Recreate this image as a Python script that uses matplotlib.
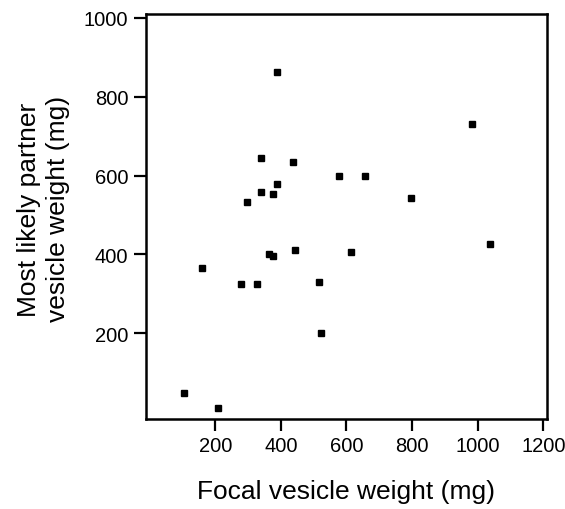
import matplotlib.pyplot as plt

plt.rcParams['font.family'] = ['Liberation Sans', 'DejaVu Sans']

# focal vesicle weight vs. weight of the most likely partner (mg)
focal = [389, 341, 438, 577, 656, 796, 389, 341, 376, 298, 365, 377,
         443, 614, 159, 280, 328, 516, 522, 984, 1038, 105, 207]
partner = [862, 644, 634, 599, 599, 543, 578, 558, 553, 533, 401, 396,
           412, 406, 366, 325, 325, 330, 199, 731, 426, 47, 11]

x_ticks = [200, 400, 600, 800, 1000, 1200]
y_ticks = [200, 400, 600, 800, 1000]

fig = plt.figure(figsize=(5.65, 5.10), dpi=100)
ax = fig.add_axes([0.2584, 0.1765, 0.7097, 0.7941])

ax.plot(focal, partner, 's', color='black', markersize=5, linestyle='none')

ax.set_xlim(-11, 1211)
ax.set_ylim(-18, 1010)
ax.set_xticks(x_ticks)
ax.set_yticks(y_ticks)

for s in ax.spines.values():
    s.set_linewidth(1.8)
ax.tick_params(direction='out', length=8.6, width=1.6, labelsize=14.5, pad=4)

ax.set_xlabel('Focal vesicle weight (mg)', fontsize=19, labelpad=17)
ax.set_ylabel('Most likely partner\nvesicle weight (mg)', fontsize=19,
              linespacing=1.25)
ax.yaxis.set_label_coords(-0.19, 0.52)

fig.savefig('out.png', dpi=100)
